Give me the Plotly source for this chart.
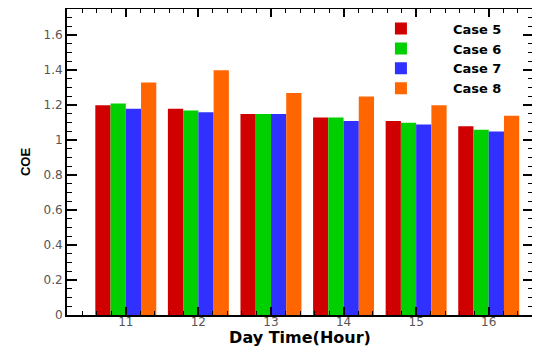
import plotly.graph_objects as go

hours = [11, 12, 13, 14, 15, 16]
case5 = [1.20, 1.18, 1.15, 1.13, 1.11, 1.08]
case6 = [1.21, 1.17, 1.15, 1.13, 1.10, 1.06]
case7 = [1.18, 1.16, 1.15, 1.11, 1.09, 1.05]
case8 = [1.33, 1.40, 1.27, 1.25, 1.20, 1.14]
names = ["Case 5", "Case 6", "Case 7", "Case 8"]
colors = ["#D00000", "#00D000", "#3030FF", "#FF6600"]
y_ticks = [0, 0.2, 0.4, 0.6, 0.8, 1, 1.2, 1.4, 1.6]
y_labels = ["0", "0.2", "0.4", "0.6", "0.8", "1", "1.2", "1.4", "1.6"]

fig = go.Figure()
for nm, vals, col in zip(names, [case5, case6, case7, case8], colors):
    fig.add_trace(go.Bar(x=hours, y=vals, name=nm, marker=dict(color=col, line=dict(width=0))))

# page body has an 8px margin, so the figure is sized/offset to compensate
fig.update_layout(
    width=532, height=339,
    margin=dict(l=59, r=7, t=1, b=32, autoexpand=False),
    paper_bgcolor="white", plot_bgcolor="white",
    barmode="group", bargap=0.16, bargroupgap=0,
    font=dict(family="DejaVu Sans, sans-serif", color="#444"),
    legend=dict(x=0.605, y=0.838, xanchor="left", yanchor="middle",
                font=dict(size=13, color="black", family="DejaVu Sans, sans-serif", weight="bold"),
                itemwidth=94, tracegroupgap=0, bgcolor="rgba(0,0,0,0)"),
    xaxis=dict(range=[10.19, 16.61], tickvals=hours, ticktext=[str(h) for h in hours],
               showline=True, linecolor="black", linewidth=2, mirror="ticks",
               ticks="inside", ticklen=8, tickwidth=2, tickcolor="black",
               minor=dict(ticks="inside", ticklen=4, tickwidth=1, dtick=0.2, tickcolor="black"),
               showgrid=False, zeroline=False, ticklabelstandoff=-5,
               tickfont=dict(size=12, color="#555"),
               title=dict(text="<b>Day Time(Hour)</b>",
                          font=dict(size=16, color="black", family="DejaVu Sans, sans-serif"), standoff=0)),
    yaxis=dict(range=[0, 1.75], tickvals=y_ticks, ticktext=y_labels,
               showline=True, linecolor="black", linewidth=2, mirror="ticks",
               ticks="inside", ticklen=10, tickwidth=2, tickcolor="black",
               minor=dict(ticks="inside", ticklen=5, tickwidth=1, dtick=0.05, tickcolor="black"),
               showgrid=False, zeroline=False,
               tickfont=dict(size=12, color="#555"),
               title=dict(text="<b>COE</b>",
                          font=dict(size=13, color="black", family="Liberation Sans, Arial, sans-serif"), standoff=10)),
)

fig.write_html("out.html")
